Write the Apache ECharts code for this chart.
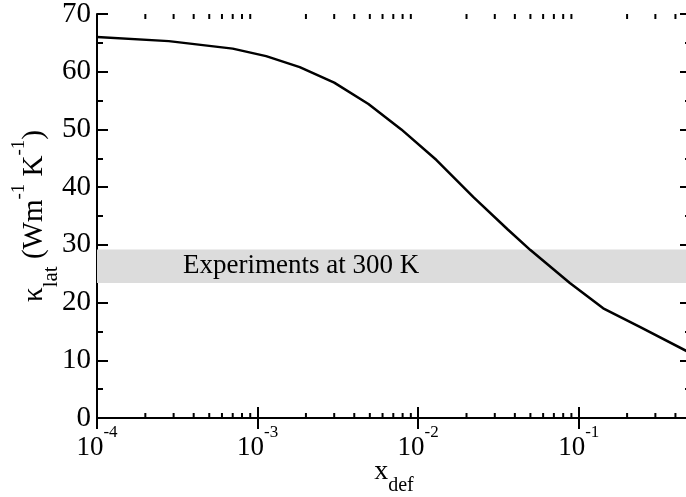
<!DOCTYPE html>
<html>
<head>
<meta charset="utf-8">
<script src="https://cdn.jsdelivr.net/npm/echarts@6/dist/echarts.min.js"></script>
<style>
    html, body { margin: 0; padding: 0; background: #fff; }
    #chart { width: 686px; height: 497px; }
</style>
</head>
<body>
<div id="chart"></div>
<script>
// 曲线数据 (x_def, kappa_lat)
var xDef = [1e-4, 2.8e-4, 7e-4, 1.13e-3, 1.83e-3, 3.0e-3, 4.9e-3, 7.85e-3, 1.3e-2, 2.2e-2, 3.6e-2, 5.0e-2, 8.8e-2, 0.142, 0.24, 0.5];
var kappa = [66.0, 65.3, 64.0, 62.7, 60.8, 58.1, 54.4, 50.0, 44.7, 38.3, 32.7, 29.1, 23.4, 19.0, 15.8, 11.2];

// 实验值范围 (300 K)
var bandRange = [23.4, 29.2];
var bandText = 'Experiments at 300 K';

// 坐标轴
var xMin = 1e-4, xMax = 0.5;
var yMin = 0, yMax = 70, yStep = 10;
var xMinorTicks = [
    2e-4, 3e-4, 4e-4, 5e-4, 6e-4, 7e-4, 8e-4, 9e-4,
    2e-3, 3e-3, 4e-3, 5e-3, 6e-3, 7e-3, 8e-3, 9e-3,
    2e-2, 3e-2, 4e-2, 5e-2, 6e-2, 7e-2, 8e-2, 9e-2,
    0.2, 0.3, 0.4
];

var FONT = '"Liberation Serif", "DejaVu Serif", serif';

var chart = echarts.init(document.getElementById('chart'));

function powLabel(v) {
    var e = Math.round(Math.log(v) / Math.LN10);
    if (Math.abs(v / Math.pow(10, e) - 1) > 1e-6) return '';
    return '{b|10}{s|' + e + '}';
}

var tickStyle = {show: true, inside: true, length: 11, lineStyle: {color: '#000', width: 2}};
var lineStyle = {color: '#000', width: 2};

var option = {
    animation: false,
    grid: {left: 97, top: 14, right: -5, bottom: 79, containLabel: false, outerBoundsMode: 'none'},
    xAxis: [{
        type: 'log',
        logBase: 10,
        min: xMin,
        max: xMax,
        axisLine: {lineStyle: lineStyle},
        axisTick: tickStyle,
        splitLine: {show: false},
        axisLabel: {
            margin: 16,
            showMaxLabel: false,
            formatter: powLabel,
            rich: {
                b: {fontFamily: FONT, fontSize: 27, color: '#000', lineHeight: 28},
                s: {fontFamily: FONT, fontSize: 17, color: '#000', lineHeight: 17, padding: [0, 0, 31, 0]}
            }
        },
        name: '{b|x}{sub|def}',
        nameLocation: 'middle',
        nameGap: 40,
        nameMoveOverlap: false,
        nameTextStyle: {
            rich: {
                b: {fontFamily: FONT, fontSize: 28, color: '#000', lineHeight: 28},
                sub: {fontFamily: FONT, fontSize: 20, color: '#000', lineHeight: 20, padding: [28, 0, 0, 0]}
            }
        }
    }, {
        type: 'log',
        logBase: 10,
        min: xMin,
        max: xMax,
        position: 'top',
        axisLine: {lineStyle: lineStyle},
        axisTick: tickStyle,
        axisLabel: {show: false},
        splitLine: {show: false}
    }],
    yAxis: [{
        type: 'value',
        min: yMin,
        max: yMax,
        interval: yStep,
        axisLine: {show: true, lineStyle: lineStyle},
        axisTick: tickStyle,
        minorTick: {show: true, splitNumber: 2, length: 6, lineStyle: {color: '#000', width: 2}},
        splitLine: {show: false},
        axisLabel: {margin: 6, fontFamily: FONT, fontSize: 29, color: '#000'},
        name: '{b|κ}{sub|lat}{b| (Wm}{sup|-1}{b| K}{sup|-1}{b|)}',
        nameLocation: 'middle',
        nameGap: 48,
        nameMoveOverlap: false,
        nameTextStyle: {
            rich: {
                b: {fontFamily: FONT, fontSize: 29, color: '#000', lineHeight: 29},
                sub: {fontFamily: FONT, fontSize: 21, color: '#000', lineHeight: 21, padding: [34, 0, 0, 0]},
                sup: {fontFamily: FONT, fontSize: 19, color: '#000', lineHeight: 19, padding: [0, 0, 30, 0]}
            }
        }
    }, {
        type: 'value',
        min: yMin,
        max: yMax,
        interval: yStep,
        position: 'right',
        axisLine: {show: true, lineStyle: lineStyle},
        axisTick: tickStyle,
        minorTick: {show: true, splitNumber: 2, length: 6, lineStyle: {color: '#000', width: 2}},
        axisLabel: {show: false},
        splitLine: {show: false}
    }],
    series: [{
        // 灰色实验带
        type: 'line',
        data: [],
        z: 1,
        markArea: {
            silent: true,
            itemStyle: {color: '#dcdcdc', opacity: 1},
            label: {
                show: true,
                position: 'insideLeft',
                distance: 86,
                fontFamily: FONT,
                fontSize: 27,
                color: '#000'
            },
            data: [[{yAxis: bandRange[0], name: bandText}, {yAxis: bandRange[1]}]]
        }
    }, {
        // x 轴次刻度 (上下两边)
        type: 'custom',
        z: 4,
        silent: true,
        data: xMinorTicks.map(function (v) { return [v, yMin]; }),
        encode: {x: 0, y: 1},
        renderItem: function (params, api) {
            var v = api.value(0);
            var b = api.coord([v, yMin]);
            var t = api.coord([v, yMax]);
            var st = {stroke: '#000', lineWidth: 2};
            return {
                type: 'group',
                children: [
                    {type: 'line', shape: {x1: b[0], y1: b[1], x2: b[0], y2: b[1] - 5}, style: st},
                    {type: 'line', shape: {x1: t[0], y1: t[1], x2: t[0], y2: t[1] + 5}, style: st}
                ]
            };
        }
    }, {
        type: 'line',
        z: 3,
        data: xDef.map(function (x, i) { return [x, kappa[i]]; }),
        symbol: 'none',
        lineStyle: {color: '#000', width: 2.5}
    }]
};
chart.setOption(option);
</script>
</body>
</html>
